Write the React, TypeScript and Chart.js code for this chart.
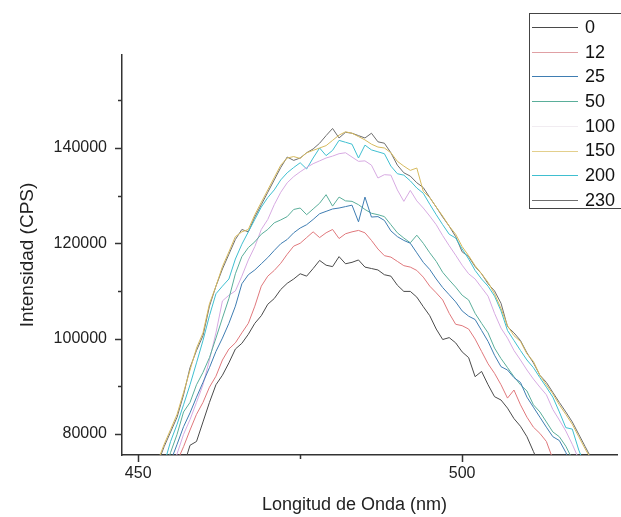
import React, { useEffect, useRef } from 'react';
import { Chart, registerables } from 'chart.js';

Chart.register(...registerables);

// Wavelength (nm)
const WAVELENGTH = [
  452, 453, 454, 455, 456, 457, 458, 459, 460, 461,
  462, 463, 464, 465, 466, 467, 468, 469, 470, 471,
  472, 473, 474, 475, 476, 477, 478, 479, 480, 481,
  482, 483, 484, 485, 486, 487, 488, 489, 490, 491,
  492, 493, 494, 495, 496, 497, 498, 499, 500, 501,
  502, 503, 504, 505, 506, 507, 508, 509, 510, 511,
  512, 513, 514, 515, 516, 517, 518, 519, 520, 521,
];

const SERIES_LABELS = ['0', '12', '25', '50', '100', '150', '200', '230'];

const I_0 = [
  57100, 60200, 63300, 66400, 69600, 73200, 77600, 78400, 82500, 86600,
  90300, 92300, 94900, 97800, 99000, 100900, 103200, 104800, 107200, 108400,
  110300, 111600, 112500, 113600, 113100, 114700, 116400, 115400, 115100, 117200,
  115700, 116000, 116500, 115000, 114700, 114400, 113400, 113100, 111200, 109900,
  109900, 108700, 106700, 104800, 102000, 99800, 100200, 99100, 97200, 96000,
  92000, 93100, 90300, 87800, 87100, 85400, 83200, 81600, 79400, 76300,
  73200, 70100, 67000, 63900, 60800, 57600, 54600, 51500, 48300, 45200,
];

const I_12 = [
  59200, 63300, 67500, 71100, 74200, 77300, 80800, 84100, 86600, 89800,
  92100, 95500, 97800, 99100, 101200, 103200, 106800, 111000, 113100, 114300,
  115800, 117700, 119400, 120000, 121200, 122400, 121200, 122200, 122900, 121000,
  122000, 122400, 122700, 122200, 120600, 118800, 117400, 117100, 116200, 115300,
  115000, 114300, 112900, 111000, 109600, 108100, 105300, 103000, 102700, 102000,
  99900, 97300, 94700, 92700, 90300, 87500, 89200, 86100, 83500, 81400,
  80100, 78400, 74700, 71600, 68500, 65400, 62300, 59200, 56100, 53000,
];

const I_25 = [
  62300, 66400, 70200, 74200, 77800, 81500, 84400, 87700, 90800, 93900,
  97300, 100100, 103200, 106800, 111500, 113400, 114400, 115700, 117000, 118500,
  119900, 120800, 122200, 123200, 123900, 125000, 126200, 126700, 127200, 127400,
  127700, 128000, 124500, 129700, 125500, 125600, 124800, 122600, 121400, 120600,
  120000, 118000, 116000, 114500, 112500, 110700, 109200, 107700, 105800, 104700,
  104000, 101700, 99400, 96500, 94100, 93400, 91800, 90800, 87700, 85600,
  83500, 81400, 79400, 78600, 76100, 72700, 69600, 66400, 63300, 60200,
];

const I_50 = [
  63300, 67500, 71700, 76100, 79900, 84600, 86600, 90300, 92900, 96000,
  100100, 104300, 108400, 113600, 117200, 119100, 120300, 121900, 122900, 124300,
  124900, 125600, 127100, 127400, 126000, 127200, 128400, 130200, 127800, 129700,
  128900, 128800, 128100, 127100, 126300, 126000, 125600, 123900, 122200, 121100,
  120100, 121700, 120000, 118000, 116200, 113900, 112300, 110800, 109100, 108100,
  105300, 103200, 101200, 98000, 95800, 93900, 92000, 90300, 89000, 86100,
  84600, 82500, 80400, 79400, 77400, 74700, 71600, 68500, 65400, 62300,
];

const I_100 = [
  61300, 64900, 68500, 72100, 75800, 79900, 83000, 86600, 90300, 95500,
  101200, 107900, 109100, 110000, 113100, 116500, 119300, 122900, 125000, 128100,
  130700, 132700, 134000, 135000, 135900, 136700, 137300, 137900, 138300, 138800,
  139000, 138100, 137200, 137300, 136400, 133700, 134400, 134300, 131200, 128800,
  131100, 128900, 127400, 125700, 123900, 121600, 119500, 117500, 115400, 113600,
  112500, 110700, 108900, 105300, 102200, 100100, 97500, 95500, 93400, 91500,
  89800, 88200, 85100, 82900, 80600, 77800, 74700, 71600, 68500, 65400,
];

const I_150 = [
  70100, 74200, 77800, 80900, 84100, 88700, 93400, 98000, 101200, 107300,
  111000, 115100, 118200, 121400, 122400, 122900, 126000, 128600, 131200, 133800,
  136400, 137900, 138200, 137800, 139000, 139500, 140000, 140500, 141600, 142700,
  143400, 143100, 142400, 141700, 140800, 140200, 140000, 139000, 137200, 136200,
  135300, 135800, 130900, 129600, 127600, 125700, 123600, 121900, 119300, 117400,
  115300, 113600, 111800, 109400, 106300, 102700, 100600, 99400, 96800, 95200,
  92300, 90300, 88400, 86100, 84100, 82000, 79400, 76800, 74500, 71100,
];

const I_200 = [
  66400, 70100, 73700, 78400, 82000, 86100, 90300, 94900, 99600, 104800,
  109400, 111000, 112500, 116700, 119800, 122400, 125000, 127600, 129600, 131200,
  133300, 134800, 135900, 136900, 135600, 137900, 140000, 138400, 139500, 141600,
  141200, 140800, 137900, 140600, 139600, 139200, 138800, 136200, 134600, 134300,
  133100, 131600, 130500, 128200, 126000, 123900, 121900, 121100, 118800, 116700,
  114300, 112500, 111000, 108900, 105800, 101700, 99600, 97500, 95500, 93900,
  91800, 89800, 87700, 84600, 81300, 81000, 76600, 73200, 70100, 66400,
];

const I_230 = [
  69600, 73700, 77300, 80400, 83500, 88200, 93900, 97500, 100600, 106800,
  111000, 114600, 117700, 120800, 122900, 122400, 125500, 128100, 130700, 133300,
  135900, 138100, 137400, 137900, 139000, 139800, 141000, 142600, 144100, 142100,
  143300, 143100, 142600, 142100, 143100, 141300, 141000, 139000, 136400, 134800,
  134100, 132700, 131700, 129600, 127600, 125500, 123600, 121400, 118200, 117200,
  115100, 113600, 111500, 110000, 107400, 102500, 101200, 99600, 97000, 94900,
  92300, 90800, 88700, 86600, 84600, 82500, 79900, 77300, 74700, 71600,
];

const SERIES_VALUES = [I_0, I_12, I_25, I_50, I_100, I_150, I_200, I_230];

const X_MAJOR = [450, 500];
const X_MINOR = [475];
const Y_MAJOR = [80000, 100000, 120000, 140000];
const Y_MINOR = [90000, 110000, 130000, 150000];

const LINE_COLORS = ['#4a4a4a', '#e0787c', '#3f7db2', '#5aae9a', '#d7aae2', '#d6ba5e', '#3fbfd0', '#6e6e6e'];
const LEGEND_COLORS = ['#4a4a4a', '#e0a0a4', '#3f7db2', '#5aae9a', '#f1ecf1', '#e3cf8c', '#3fbfd0', '#6e6e6e'];

const FONT = '"Liberation Sans", Arial, sans-serif';
const X_TITLE = 'Longitud de Onda (nm)';

const tickMarks = {
  id: 'tickMarks',
  afterDraw(chart: any) {
    const { ctx, chartArea: ca } = chart;
    const xs = chart.scales.x;
    const ys = chart.scales.y;
    ctx.save();
    ctx.strokeStyle = '#333';
    ctx.lineWidth = 1.5;
    const drawX = (v: number, len: number) => {
      const px = Math.round(xs.getPixelForValue(v)) + 0.5;
      ctx.beginPath();
      ctx.moveTo(px, ca.bottom);
      ctx.lineTo(px, ca.bottom + len);
      ctx.stroke();
    };
    const drawY = (v: number, len: number) => {
      const py = Math.round(ys.getPixelForValue(v)) + 0.5;
      ctx.beginPath();
      ctx.moveTo(ca.left, py);
      ctx.lineTo(ca.left - len, py);
      ctx.stroke();
    };
    X_MAJOR.forEach((v) => drawX(v, 7));
    X_MINOR.forEach((v) => drawX(v, 4));
    Y_MAJOR.forEach((v) => drawY(v, 7));
    Y_MINOR.forEach((v) => drawY(v, 4));

    // x axis title (slightly left of the axis centre, as in the original)
    ctx.fillStyle = '#222';
    ctx.font = `18px ${FONT}`;
    ctx.textAlign = 'center';
    ctx.textBaseline = 'middle';
    ctx.fillText(X_TITLE, (ca.left + ca.right) / 2 - 15, 505);
    ctx.restore();
  },
};

const boxLegend = {
  id: 'boxLegend',
  afterDraw(chart: any) {
    const { ctx } = chart;
    ctx.save();
    ctx.strokeStyle = '#444';
    ctx.lineWidth = 1;
    ctx.strokeRect(529.5, 13.5, 120, 195);
    chart.data.datasets.forEach((ds: any, i: number) => {
      const y = 27 + i * 24.7;
      const ly = Math.round(y) + 0.5;
      ctx.strokeStyle = LEGEND_COLORS[i];
      ctx.lineWidth = 1;
      ctx.beginPath();
      ctx.moveTo(532, ly);
      ctx.lineTo(578, ly);
      ctx.stroke();
      ctx.fillStyle = '#111';
      ctx.font = `18px ${FONT}`;
      ctx.textBaseline = 'middle';
      ctx.textAlign = 'left';
      ctx.fillText(ds.label, 585, y + 1);
    });
    ctx.restore();
  },
};

export default function App() {
  const canvasRef = useRef<HTMLCanvasElement | null>(null);

  useEffect(() => {
    if (!canvasRef.current) return;
    const datasets = SERIES_LABELS.map((label, k) => ({
      label,
      data: WAVELENGTH.map((w, i) => ({ x: w, y: SERIES_VALUES[k][i] })),
      borderColor: LINE_COLORS[k],
      backgroundColor: LINE_COLORS[k],
      borderWidth: 1,
      pointRadius: 0,
      tension: 0,
      fill: false,
    }));

    const chart = new Chart(canvasRef.current, {
      type: 'line',
      data: { datasets },
      plugins: [tickMarks, boxLegend],
      options: {
        animation: false,
        responsive: false,
        devicePixelRatio: 1,
        layout: { padding: { left: 8, top: 55, right: 4, bottom: 0 } },
        plugins: {
          legend: { display: false },
          tooltip: { enabled: false },
        },
        scales: {
          x: {
            type: 'linear',
            min: 447.5,
            max: 523.9,
            afterBuildTicks: (s: any) => {
              s.ticks = [...X_MAJOR, ...X_MINOR].sort((a, b) => a - b).map((v) => ({ value: v }));
            },
            afterFit: (s: any) => {
              s.height = 62;
            },
            ticks: {
              autoSkip: false,
              maxRotation: 0,
              padding: 9,
              color: '#222',
              font: { family: FONT, size: 16 },
              callback: (v: any) => (X_MAJOR.includes(Number(v)) ? String(v) : ''),
            },
            grid: { display: false, drawTicks: false },
            border: { display: true, color: '#333', width: 1.5 },
            title: { display: false },
          },
          y: {
            type: 'linear',
            min: 75560,
            max: 159520,
            afterBuildTicks: (s: any) => {
              s.ticks = [...Y_MAJOR, ...Y_MINOR].sort((a, b) => a - b).map((v) => ({ value: v }));
            },
            afterFit: (s: any) => {
              s.width = 114;
            },
            ticks: {
              autoSkip: false,
              padding: 15,
              color: '#222',
              font: { family: FONT, size: 16 },
              callback: (v: any) => (Y_MAJOR.includes(Number(v)) ? String(v) : ''),
            },
            grid: { display: false, drawTicks: false },
            border: { display: true, color: '#333', width: 1.5 },
            title: {
              display: true,
              text: 'Intensidad (CPS)',
              color: '#222',
              font: { family: FONT, size: 19 },
              padding: { top: 8, bottom: 0 },
            },
          },
        },
      },
    });
    return () => chart.destroy();
  }, []);

  return (
    <div style={{ position: 'absolute', left: 0, top: 0, width: 621, height: 517, background: '#fff' }}>
      <canvas ref={canvasRef} width={621} height={517} style={{ display: 'block' }} />
    </div>
  );
}
